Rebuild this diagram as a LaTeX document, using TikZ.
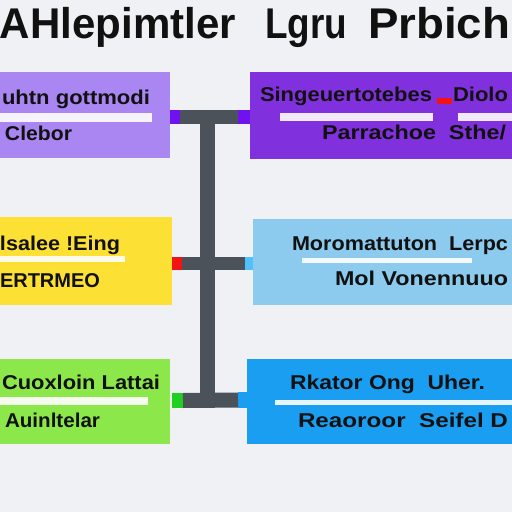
\documentclass[tikz,border=0pt]{standalone}
\usepackage{fontspec}
\setmainfont{Liberation Sans}
\usepackage{graphicx}
\definecolor{bgc}{HTML}{F0F1F5}
\definecolor{lpurple}{HTML}{A986F2}
\definecolor{dpurple}{HTML}{8030DC}
\definecolor{spurple}{HTML}{7012F0}
\definecolor{yel}{HTML}{FCE034}
\definecolor{sred}{HTML}{F01414}
\definecolor{lblue}{HTML}{8CCAEE}
\definecolor{slblue}{HTML}{50C0F8}
\definecolor{grn}{HTML}{8CE84A}
\definecolor{sgrn}{HTML}{20D020}
\definecolor{blu}{HTML}{1A9EF2}
\definecolor{gry}{HTML}{4B525A}
\definecolor{txt}{HTML}{111111}
\newcommand\fitto[2]{\resizebox{#1}{\height}{#2}}
\begin{document}
\begin{tikzpicture}[x=1pt,y=-1pt,
  box/.style={inner sep=0pt, outer sep=0pt, draw=none},
  stub/.style={inner sep=0pt, outer sep=0pt, draw=none},
  lbl/.style={inner sep=0pt, outer sep=0pt, anchor=base west, text=txt, font=\bfseries\fontsize{20}{24}\selectfont},
  ttl/.style={inner sep=0pt, outer sep=0pt, anchor=base west, text=txt, font=\bfseries\fontsize{43}{50}\selectfont},
  bar/.style={fill=white, opacity=0.9},
  conn/.style={draw=gry, line cap=butt}]
\useasboundingbox (0,0) rectangle (512,512);
\clip (0,0) rectangle (512,512);
\fill[bgc] (0,0) rectangle (512,512);

% title
\node[ttl] (title1) at (0,38) {\fitto{236pt}{AHlepimtler}};
\node[ttl] (title2) at (265,38) {\fitto{82pt}{Lgru}};
\node[ttl] (title3) at (368,38) {\fitto{142pt}{Prbich}};

% boxes
\node[box, fill=lpurple, minimum width=175pt, minimum height=86pt] (b1) at (82.5,115) {};
\node[box, fill=dpurple, minimum width=270pt, minimum height=87pt] (b2) at (385,115.5) {};
\node[box, fill=yel, minimum width=177pt, minimum height=88pt] (b3) at (83.5,261) {};
\node[box, fill=lblue, minimum width=267pt, minimum height=86pt] (b4) at (386.5,262) {};
\node[box, fill=grn, minimum width=175pt, minimum height=85pt] (b5) at (82.5,401.5) {};
\node[box, fill=blu, minimum width=273pt, minimum height=85pt] (b6) at (383.5,401.5) {};

% white bars
\fill[bar] (-2,113) rectangle (152,122);
\fill[bar] (280,113) rectangle (433,121);
\fill[bar] (458,113) rectangle (515,121);
\fill[bar] (-2,256) rectangle (125,262);
\fill[bar] (302,258) rectangle (472,263);
\fill[bar] (-2,397) rectangle (148,405);
\fill[bar] (275,400) rectangle (515,405);

% stubs
\node[stub, fill=spurple, minimum width=10pt, minimum height=14pt] (s1) at (175,117) {};
\node[stub, fill=spurple, minimum width=12pt, minimum height=14pt] (s2) at (244,117) {};
\node[stub, fill=sred, minimum width=10pt, minimum height=13pt] (s3) at (177,263.5) {};
\node[stub, fill=slblue, minimum width=8pt, minimum height=13pt] (s4) at (249,263.5) {};
\node[stub, fill=sgrn, minimum width=11pt, minimum height=15pt] (s5) at (177.5,400.5) {};
\node[stub, fill=blu, minimum width=9pt, minimum height=16pt] (s6) at (242.5,400) {};

% gray connectors
\coordinate (vt) at (207.5,110);
\coordinate (vb) at (207.5,408);
\draw[conn, line width=15pt] (vt) -- (vb);
\draw[conn, line width=14pt] (s1.east) -- (s2.west);
\draw[conn, line width=13pt] (s3.east) -- (s4.west);
\draw[conn, line width=15pt] (s5.east) -- (s6.west);

% texts
\node[lbl] (t1) at (2,104) {\fitto{148pt}{uhtn gottmodi}};
\node[lbl] (t2) at (5,140) {\fitto{67pt}{Clebor}};
\node[lbl] (t3) at (260,101) {\fitto{172pt}{Singeuertotebes}};
\fill[sred] (437,98) rectangle (452,104);
\node[lbl] (t4) at (453,101) {\fitto{55pt}{Diolo}};
\node[lbl] (t5) at (322,139) {\fitto{184pt}{Parrachoe\ \ Sthe/}};
\node[lbl] (t6) at (0,250) {\fitto{120pt}{lsalee !Eing}};
\node[lbl] (t7) at (0,287) {\fitto{100pt}{ERTRMEO}};
\node[lbl] (t8) at (292,250) {\fitto{216pt}{Moromattuton\ \ Lerpc}};
\node[lbl] (t9) at (335,285) {\fitto{173pt}{Mol Vonennuuo}};
\node[lbl] (t10) at (2,389) {\fitto{158pt}{Cuoxloin Lattai}};
\node[lbl] (t11) at (5,427) {\fitto{95pt}{Auinltelar}};
\node[lbl] (t12) at (290,389) {\fitto{195pt}{Rkator Ong\ \ Uher.}};
\node[lbl] (t13) at (298,427) {\fitto{210pt}{Reaoroor\ \ Seifel D}};
\end{tikzpicture}
\end{document}
